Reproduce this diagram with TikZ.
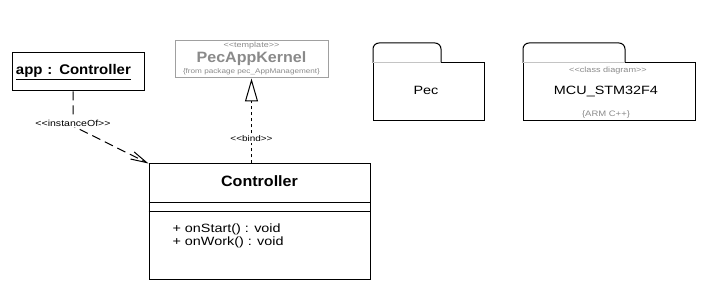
\documentclass[tikz,border=0pt]{standalone}
\usepackage{fontspec}
\usetikzlibrary{arrows.meta,positioning,calc}
\newfontfamily\umlfont{Liberation Sans}[FakeStretch=1.2]
\newfontfamily\umlbold{Liberation Sans}[FakeStretch=1.07]
\newcommand{\umlsize}[1]{\fontsize{#1}{#1}\selectfont}
\definecolor{Frame}{HTML}{A0A0A0}
\definecolor{Faded}{HTML}{8A8A8A}
\definecolor{Split}{HTML}{C4C4C4}

\begin{document}
\begin{tikzpicture}[x=1pt,y=-1pt,line width=1pt,
  every node/.style={font=\umlfont\umlsize{12},inner sep=0pt},
  stereo/.style={text=Faded},
  title/.style={font=\umlbold\bfseries\umlsize{15},anchor=base},
  deplabel/.style={fill=white,inner sep=1pt},
  dep/.style={dash pattern=on 9pt off 5pt},
  bindline/.style={dash pattern=on 3pt off 3pt}]
\useasboundingbox (0,0) rectangle (705,294);
\node[draw,minimum width=132pt,minimum height=38pt,text width=124pt,align=left,
  font=\umlbold\bfseries\umlsize{14}] (app) at (78,72) {\underline{app : Controller}};
\node[draw=Frame,minimum width=153pt,minimum height=37pt] (kernel) at (251.5,59.5) {};
\node[stereo,font=\umlfont\umlsize{7.5},anchor=base] (kerneltag) at (kernel.center |- 0,48) {<<template>>};
\node[title,text=Faded] (kernelname) at (kernel.center |- 0,62.5) {PecAppKernel};
\node[stereo,font=\umlfont\umlsize{6.8},anchor=base] (kernelpkg) at (kernel.center |- 0,73.5) {\{from package pec\_AppManagement\}};
\node[draw,minimum width=221pt,minimum height=115pt] (ctrl) at (259.5,221.5) {};
\draw (ctrl.west |- 0,203) -- (ctrl.east |- 0,203);
\draw (ctrl.west |- 0,212) -- (ctrl.east |- 0,212);
\node[title] (ctrlname) at (ctrl.center |- 0,187) {Controller};
\node[anchor=base west] (opstart) at (172,233) {+ onStart() : void};
\node[anchor=base west] (opwork) at (172,245.7) {+ onWork() : void};
\coordinate (bend) at (73,126);
\draw[dep,-{Straight Barb[length=16pt,width=8pt]}] (app.south -| bend) -- (bend) -- (ctrl.north west);
\node[deplabel,font=\umlfont\umlsize{8.8}] (instlabel) at (73,123) {<<instanceOf>>};
\draw[bindline,-{Triangle[open,length=23pt,width=13pt]}] (kernel.south |- ctrl.north) -- (kernel.south);
\node[deplabel,font=\umlfont\umlsize{8.3}] (bindlabel) at (251.5,139) {<<bind>>};
\foreach \xa/\xb/\xc in {373/441/484,523/625/695}{
  \draw[rounded corners=6pt] (\xa,63) -- (\xa,43) -- (\xb,43) -- (\xb,63);
  \draw (\xb,63) -- (\xc,63) -- (\xc,121) -- (\xa,121) -- (\xa,63);
  \draw[Split] (\xa,63) -- (\xb,63);
}
\node[anchor=base] (pec) at (426,95) {Pec};
\node[stereo,font=\umlfont\umlsize{7.6},anchor=base] (mcutag) at (608,72.5) {<<class diagram>>};
\node[anchor=base] (mcu) at (606,95) {MCU\_STM32F4};
\node[stereo,font=\umlfont\umlsize{7.9},anchor=base] (mculang) at (606,116.5) {\{ARM C++\}};
\end{tikzpicture}
\end{document}
